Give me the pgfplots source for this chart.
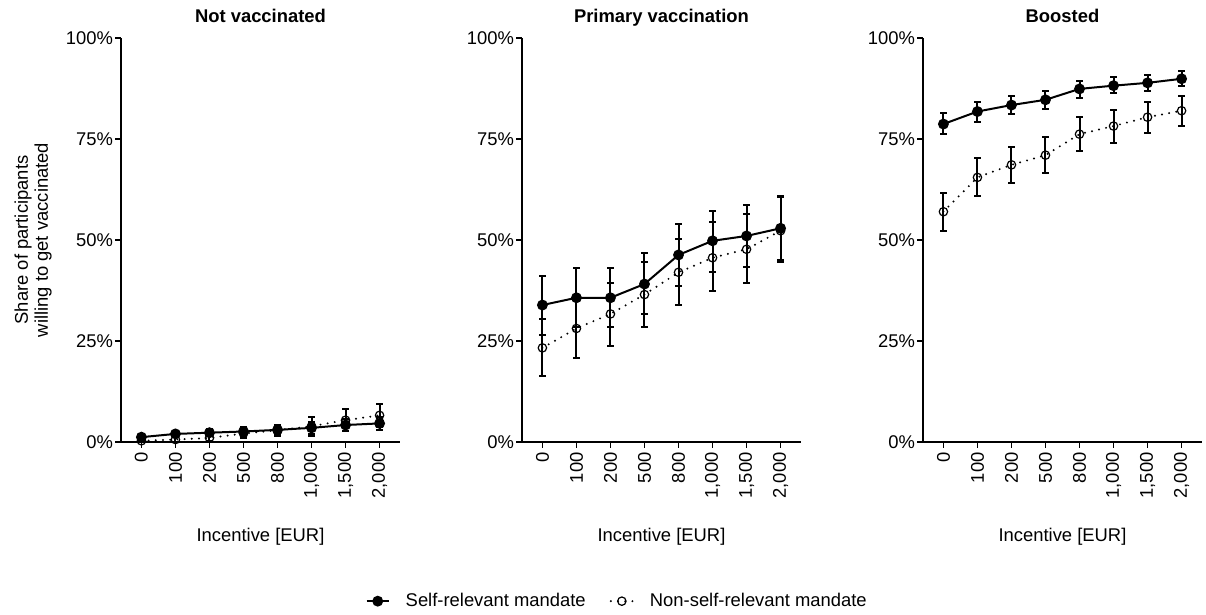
\documentclass[border=0pt]{standalone}
\usepackage{fontspec}
\setmainfont{Liberation Sans}
\usepackage{pgfplots}
\usepackage{pgfplotstable}
\pgfplotsset{compat=1.18}

% Not vaccinated
\pgfplotstableread{
x y lo hi
0 1.2 0.5 1.9
1 2.0 1.2 2.8
2 2.3 1.4 3.2
3 2.6 1.6 3.6
4 3.0 1.8 4.3
5 3.5 2.1 4.9
6 4.2 2.7 5.8
7 4.6 2.9 6.3
}\nvself
\pgfplotstableread{
x y lo hi
0 0.3 0.0 0.6
1 0.6 0.1 1.2
2 1.0 0.3 1.7
3 2.1 1.0 3.2
4 2.9 1.6 4.3
5 3.9 1.6 6.3
6 5.4 2.7 8.2
7 6.6 3.8 9.4
}\nvnon
% Primary vaccination
\pgfplotstableread{
x y lo hi
0 33.9 26.6 41.2
1 35.7 28.4 43.0
2 35.7 28.4 43.0
3 39.1 31.8 46.7
4 46.3 38.7 53.9
5 49.8 42.0 57.3
6 51.0 43.4 58.7
7 52.9 45.0 61.0
}\prself
\pgfplotstableread{
x y lo hi
0 23.3 16.3 30.4
1 28.1 20.7 35.5
2 31.7 23.8 39.3
3 36.5 28.5 44.6
4 42.0 33.9 50.2
5 45.6 37.4 54.5
6 47.7 39.4 56.5
7 52.3 44.5 60.6
}\prnon
% Boosted
\pgfplotstableread{
x y lo hi
0 78.7 76.2 81.4
1 81.8 79.3 84.2
2 83.4 81.2 85.7
3 84.7 82.4 86.9
4 87.4 85.2 89.4
5 88.2 86.3 90.3
6 88.9 86.9 90.9
7 89.9 88.1 91.8
}\boself
\pgfplotstableread{
x y lo hi
0 57.0 52.2 61.7
1 65.5 60.9 70.2
2 68.6 64.0 73.1
3 71.0 66.5 75.4
4 76.2 72.1 80.4
5 78.2 74.1 82.2
6 80.4 76.4 84.2
7 82.0 78.3 85.7
}\bonon

\pgfplotsset{
  every axis title shift=0pt,
  panel/.style={
    scale only axis, width=139.5pt, height=202pt,
    xmin=-0.6, xmax=7.6, ymin=0, ymax=100,
    clip=false,
    axis x line*=bottom, axis y line*=left,
    axis line style={line width=0.7pt, -},
    xtick={0,...,7},
    xticklabels={0,100,200,500,800,{1,000},{1,500},{2,000}},
    ytick={0,25,50,75,100},
    yticklabels={0\%,25\%,50\%,75\%,100\%},
    tick align=outside, major tick length=3pt,
    tick style={line width=0.7pt, black},
    xticklabel style={rotate=90, anchor=east, inner sep=2pt},
    yticklabel style={inner sep=2pt, xshift=1.2pt},
    /pgf/number format/assume math mode=true,
    ticklabel style={font=\fontsize{9.2}{11}\selectfont},
    label style={font=\fontsize{9.2}{11}\selectfont},
    title style={at={(0.5,1)}, anchor=base, yshift=7.5pt, font=\fontsize{9.2}{11}\selectfont\bfseries},
    xlabel={Incentive [EUR]},
    xlabel style={at={(axis description cs:0.5,0)}, anchor=base, yshift=-50pt},
    legend image code/.code={\draw[mark repeat=2,mark phase=2,#1] plot coordinates {(0pt,0pt) (5.5pt,0pt) (11pt,0pt)};},
  },
  selfp/.style={black, line width=1pt, solid, mark=*, mark size=2.2pt, mark options={solid},
    error bars/y dir=both, error bars/y explicit,
    error bars/error bar style={line width=1pt, solid},
    error bars/error mark options={rotate=90, mark size=1.6pt, line width=1pt, solid}},
  nonp/.style={black, line width=1.1pt, dash pattern=on 0pt off 3.6pt, line cap=round,
    mark=o, mark size=2.1pt, mark options={solid, line width=0.6pt, fill=none},
    error bars/y dir=both, error bars/y explicit,
    error bars/error bar style={line width=1pt, solid, line cap=butt},
    error bars/error mark options={rotate=90, mark size=1.6pt, line width=1pt, solid, line cap=butt}},
}

\begin{document}
\begin{tikzpicture}
\useasboundingbox (0,0) rectangle (603pt,307.5pt);

\begin{axis}[panel, at={(60.5pt,86.5pt)}, anchor=south west, title={Not vaccinated}]
\addplot[nonp] table[x=x, y=y, y error plus expr=\thisrow{hi}-\thisrow{y}, y error minus expr=\thisrow{y}-\thisrow{lo}] {\nvnon};
\addplot[selfp] table[x=x, y=y, y error plus expr=\thisrow{hi}-\thisrow{y}, y error minus expr=\thisrow{y}-\thisrow{lo}] {\nvself};
\end{axis}

\begin{axis}[panel, at={(261pt,86.5pt)}, anchor=south west, title={Primary vaccination},
  legend columns=2,
  legend style={at={(axis description cs:0.345,-0.394)}, anchor=center, draw=none, fill=none,
    font=\fontsize{9.2}{11}\selectfont,
    /tikz/every odd column/.append style={column sep=6pt},
    /tikz/every even column/.append style={column sep=10pt}},
  reverse legend]
\addplot[nonp] table[x=x, y=y, y error plus expr=\thisrow{hi}-\thisrow{y}, y error minus expr=\thisrow{y}-\thisrow{lo}] {\prnon};
\addplot[selfp] table[x=x, y=y, y error plus expr=\thisrow{hi}-\thisrow{y}, y error minus expr=\thisrow{y}-\thisrow{lo}] {\prself};
\legend{Non-self-relevant mandate, Self-relevant mandate}
\end{axis}

\begin{axis}[panel, at={(461.5pt,86.5pt)}, anchor=south west, title={Boosted}]
\addplot[nonp] table[x=x, y=y, y error plus expr=\thisrow{hi}-\thisrow{y}, y error minus expr=\thisrow{y}-\thisrow{lo}] {\bonon};
\addplot[selfp] table[x=x, y=y, y error plus expr=\thisrow{hi}-\thisrow{y}, y error minus expr=\thisrow{y}-\thisrow{lo}] {\boself};
\end{axis}

\node[rotate=90, align=center, anchor=center, font=\fontsize{9.2}{10}\selectfont] at (16.5pt,187.5pt) {Share of participants\\willing to get vaccinated};
\end{tikzpicture}
\end{document}
